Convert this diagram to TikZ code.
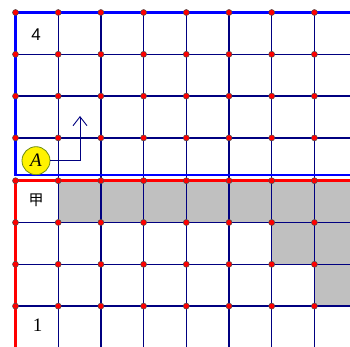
\documentclass[tikz,border=0pt]{standalone}
\usepackage{fontspec}
\setmainfont{Liberation Serif}
\newfontfamily\sansfig{Liberation Sans}
\newfontfamily\cjk{Noto Sans CJK SC}
\usetikzlibrary{arrows.meta}

\definecolor{gridnavy}{RGB}{0,0,128}
\definecolor{cellgray}{RGB}{192,192,192}
\definecolor{ringolive}{RGB}{110,140,20}

\begin{document}
\begin{tikzpicture}[
  x=1pt,y=-1pt,
  gridline/.style={draw=gridnavy,line width=1.3pt},
  blueedge/.style={draw=blue,line width=2.8pt},
  rededge/.style={draw=red,line width=2.8pt},
  dot/.style={circle,fill=red,draw=black!70,line width=0.5pt,inner sep=0pt,minimum size=6pt},
  cell/.style={inner sep=0pt}
]
  \useasboundingbox (0,0) rectangle (350,347);

  % shaded cells of the lower board
  \fill[cellgray] (58.2,180.7) rectangle (350,222.5);
  \fill[cellgray] (271.7,222.5) rectangle (350,264.3);
  \fill[cellgray] (314.4,264.3) rectangle (350,306.1);

  % grid
  \foreach \i in {1,...,7}
    \draw[gridline] (15.5+42.7*\i,12.5) -- (15.5+42.7*\i,347);
  \foreach \y in {54.3,96.1,137.9,222.5,264.3,306.1}
    \draw[gridline] (15.5,\y) -- (350,\y);

  % board edges
  \draw[blueedge] (350,12.5) -- (15.5,12.5) -- (15.5,175) -- (350,175);
  \draw[rededge] (350,180.7) -- (15.5,180.7) -- (15.5,347);

  % lattice points
  \foreach \i in {0,...,7}
    \foreach \y in {12.5,54.3,96.1,137.9,180.7,222.5,264.3,306.1}
      \node[dot] at (15.5+42.7*\i,\y) {};

  % labels
  \node[cell] (four) at (36,34.5) {\sansfig\fontsize{17}{17}\selectfont 4};
  \node[cell] (jia) at (36,200.5) {\cjk\fontsize{15}{15}\selectfont 甲};
  \node[cell] (one) at (37.5,325) {\fontsize{19}{19}\selectfont 1};

  \node[circle,draw=ringolive,fill=yellow,line width=0.8pt,minimum size=28pt,inner sep=0pt]
    (A) at (36,160.7) {\fontsize{19}{19}\selectfont\itshape A};
  \coordinate (tip) at (80,116);
  \draw[gridnavy,line width=0.9pt,-{Straight Barb[length=9pt,width=14pt]}] (A.east) -| (tip);
\end{tikzpicture}
\end{document}
